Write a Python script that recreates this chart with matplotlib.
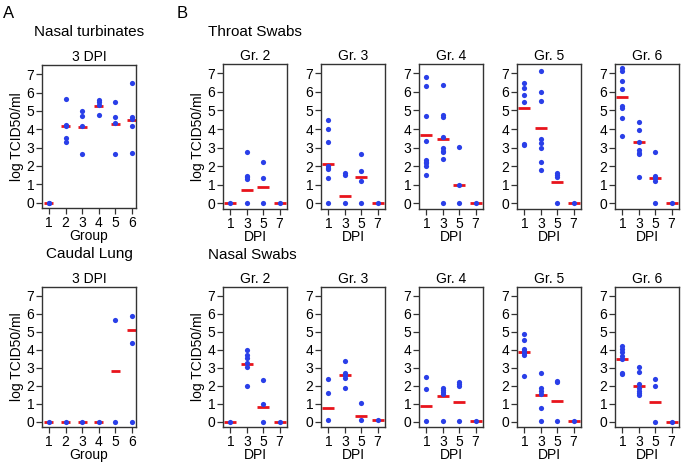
import numpy as np
import matplotlib.pyplot as plt

plt.rcParams['font.family'] = ['Liberation Sans', 'DejaVu Sans']

W, H = 685, 462
DOT = '#2a3fe8'
MED = '#e8141c'

# ---- panel A data (log TCID50/ml per animal, by group) ----
groups = [1, 2, 3, 4, 5, 6]
turb_pts = [[0.0, 0.0],
            [5.63, 4.24, 4.2, 3.52, 3.28],
            [5.0, 4.73, 4.19, 2.62],
            [5.6, 5.5, 5.3, 4.78],
            [5.5, 4.66, 4.33, 2.62],
            [6.5, 4.66, 4.58, 4.19, 2.72]]
turb_med = [0.0, 4.15, 4.13, 5.27, 4.28, 4.51]

lung_pts = [[0.0], [0.0], [0.0], [0.0],
            [5.64, 0.0],
            [5.87, 4.38, 0.0]]
lung_med = [0.0, 0.0, 0.0, 0.0, 2.82, 5.1]

# ---- panel B data (by DPI, per group) ----
dpi = ['1', '3', '5', '7']
grp_names = ['Gr. 2', 'Gr. 3', 'Gr. 4', 'Gr. 5', 'Gr. 6']

throat_pts = [
    [[0.0], [2.76, 1.5, 1.44, 1.3, 0.0], [2.23, 1.35, 0.0], [0.0]],
    [[4.49, 3.99, 3.32, 2.0, 1.92, 1.83, 1.35, 0.0], [1.65, 1.53, 0.0],
     [2.64, 1.74, 1.2, 0.0], [0.0]],
    [[6.82, 6.29, 4.71, 3.35, 2.35, 2.25, 2.18, 2.0, 1.53],
     [6.38, 4.73, 4.67, 3.58, 2.98, 2.82, 2.76, 2.4, 0.0],
     [3.02, 1.0, 0.0], [0.0]],
    [[6.5, 6.23, 5.82, 5.46, 3.21, 3.14],
     [7.13, 6.0, 5.49, 3.48, 3.27, 3.0, 2.24, 1.78],
     [1.65, 1.53, 1.42, 0.0], [0.0]],
    [[7.3, 7.15, 6.6, 6.14, 5.24, 5.12, 4.6, 3.63],
     [4.38, 3.95, 3.3, 2.85, 2.73, 2.64, 1.44],
     [2.76, 1.47, 1.38, 1.2, 0.0], [0.0]],
]
throat_med = [[0.0, 0.72, 0.9, 0.0],
              [2.14, 0.4, 1.42, 0.0],
              [3.69, 3.44, 1.0, 0.0],
              [5.12, 4.04, 1.15, 0.0],
              [5.74, 3.3, 1.35, 0.0]]

nasal_pts = [
    [[0.0], [4.01, 3.7, 3.56, 3.26, 3.02, 2.0], [2.3, 1.0, 0.0], [0.0]],
    [[2.39, 1.58, 0.07], [3.4, 2.72, 2.6, 2.45, 1.87], [1.04, 0.07], [0.07]],
    [[2.49, 1.84, 0.03], [1.88, 1.75, 1.64, 1.52, 0.03],
     [2.18, 2.09, 1.97, 0.03], [0.03]],
    [[4.87, 4.55, 4.07, 3.94, 3.8, 3.7, 2.54],
     [2.72, 1.9, 1.73, 1.55, 0.74, 0.04], [2.27, 2.18, 0.04], [0.04]],
    [[4.24, 4.06, 3.88, 3.67, 3.47, 2.72, 2.66],
     [3.02, 2.77, 2.09, 1.87, 1.73, 1.58, 1.49], [2.36, 2.0, 0.0], [0.0]],
]
nasal_med = [[0.0, 3.2, 0.83, 0.0],
             [0.74, 2.59, 0.32, 0.07],
             [0.89, 1.43, 1.07, 0.03],
             [3.88, 1.49, 1.13, 0.04],
             [3.47, 2.0, 1.1, 0.0]]

fig = plt.figure(figsize=(W / 100, H / 100), dpi=100)


def px_axes(l, t, r, b):
    return fig.add_axes([l / W, 1 - b / H, (r - l) / W, (b - t) / H])


def style(ax):
    for s in ax.spines.values():
        s.set_color('#333333')
        s.set_linewidth(1.0)
    ax.tick_params(direction='out', length=4, width=0.9, color='#333333',
                   labelsize=10, pad=1.5)
    ax.set_ylim(-0.3, 7.5)
    ax.set_yticks(range(8))


def dot_panel(ax, xs, pts, meds, half):
    for x, p, m in zip(xs, pts, meds):
        ax.scatter([x] * len(p), p, s=14, color=DOT, linewidths=0, zorder=3)
        ax.plot([x - half, x + half], [m, m], color=MED, lw=2, zorder=2,
                solid_capstyle='butt')


# panel A
for (top, bot), pts, med, title in [((65, 208), turb_pts, turb_med, 'Nasal turbinates'),
                                     ((287, 427), lung_pts, lung_med, 'Caudal Lung')]:
    ax = px_axes(42, top, 136, bot)
    style(ax)
    dot_panel(ax, groups, pts, med, 0.27)
    ax.set_xlim(0.58, 6.25)
    ax.set_xticks(groups)
    ax.set_xlabel('Group', fontsize=10, labelpad=-0.5)
    ax.set_ylabel('log TCID50/ml', fontsize=10, labelpad=2)
    ax.set_title('3 DPI', fontsize=10, pad=3)
    fig.text(89 / W, 1 - (top - 33) / H, title, ha='center', va='center', fontsize=11)

# panel B
lefts = [223, 321, 419, 517, 615]
xs = np.arange(len(dpi))
for (top, bot), P, M, title in [((64, 209), throat_pts, throat_med, 'Throat Swabs'),
                                 ((287, 427), nasal_pts, nasal_med, 'Nasal Swabs')]:
    for i, l in enumerate(lefts):
        ax = px_axes(l, top, l + 64, bot)
        style(ax)
        dot_panel(ax, xs, P[i], M[i], 0.37)
        ax.set_xlim(-0.45, 3.45)
        ax.set_xticks(xs)
        ax.set_xticklabels(dpi)
        ax.set_xlabel('DPI', fontsize=10, labelpad=-0.5)
        ax.set_title(grp_names[i], fontsize=10, pad=3)
        if i == 0:
            ax.set_ylabel('log TCID50/ml', fontsize=10, labelpad=2)
    fig.text(208 / W, 1 - (top - 32) / H, title, ha='left', va='center', fontsize=11)

fig.text(3 / W, 1 - 14 / H, 'A', fontsize=12, va='center')
fig.text(177 / W, 1 - 14 / H, 'B', fontsize=12, va='center')

fig.savefig('out.png', dpi=100)
